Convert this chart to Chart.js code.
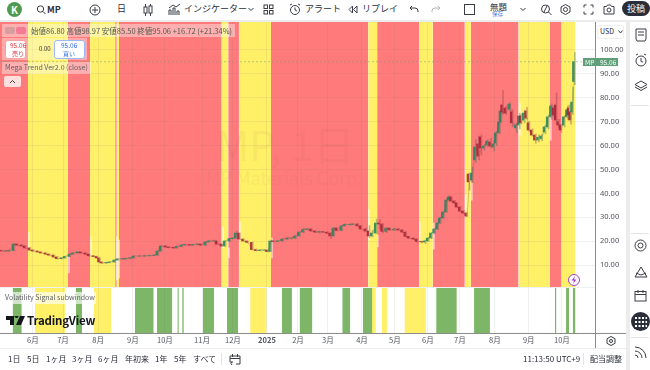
<!DOCTYPE html>
<html>
<head>
<meta charset="utf-8">
<script src="https://cdn.jsdelivr.net/npm/chart.js@4"></script>
<style>
  html, body { margin: 0; padding: 0; background: #fff; width: 650px; height: 370px; overflow: hidden; }
  body { position: relative; font-family: "Noto Sans CJK JP", "Noto Sans", sans-serif; color: #2a2e39; }
  .t { position: absolute; white-space: nowrap; line-height: 1; }
  .box { position: absolute; box-sizing: border-box; }
  svg { position: absolute; fill: none; stroke: #3a3d46; stroke-width: 1; }
  #wrap { position: absolute; left: 0; top: 22px; width: 626px; height: 326px; }
</style>
</head>
<body>
<div id="wrap"><canvas id="mp-chart" width="626" height="326"></canvas></div>

<!-- top toolbar -->
<div class="box" style="left:0;top:20px;width:650px;height:2px;background:#ececec"></div>
<div class="box" style="left:7px;top:2px;width:15px;height:15px;border-radius:50%;background:#4f9a52"></div>
<div class="t" style="left:11px;top:5px;font-size:10px;font-weight:700;color:#fff">K</div>
<svg style="left:36px;top:4px" width="10" height="12"><circle cx="4.5" cy="5" r="3.2"/><path d="M7 7.5l2.5 2.5"/></svg>
<div class="t" style="left:47px;top:5px;font-size:9px;font-weight:700">MP</div>
<svg style="left:89px;top:4px" width="12" height="12"><circle cx="6" cy="6" r="5"/><path d="M6 3v6M3 6h6"/></svg>
<div class="t" style="left:117px;top:4px;font-size:9px">日</div>
<svg style="left:143px;top:3px" width="10" height="14"><rect x="1" y="4" width="3" height="6"/><rect x="6" y="3" width="3" height="7"/><path d="M2.5 1v3M2.5 10v3M7.5 1v2M7.5 10v3"/></svg>
<svg style="left:168px;top:3px" width="13" height="13"><path d="M1 12V7h2v5M5 12V5h2v7M9 12V8h2v4M1 5l4-3 3 2 4-3"/></svg>
<div class="t" style="left:184px;top:4px;font-size:9px">インジケーター</div>
<svg style="left:248px;top:7px" width="6" height="5"><path d="M.5 1l2.5 2.5L5.500 1"/></svg>
<svg style="left:263px;top:4px" width="11" height="11"><rect x="1" y="1" width="3.500" height="3.500"/><rect x="6.500" y="1" width="3.500" height="3.500"/><rect x="1" y="6.500" width="3.500" height="3.500"/><rect x="6.500" y="6.500" width="3.500" height="3.500"/></svg>
<svg style="left:289px;top:3px" width="12" height="13"><circle cx="6" cy="7" r="4.500"/><path d="M6 4.500V7l2 1M1 2l2-1M11 2l-2-1"/></svg>
<div class="t" style="left:305px;top:4px;font-size:9px">アラート</div>
<svg style="left:348px;top:5px" width="10" height="9"><path d="M4.500 1L1 4.500 4.500 8zM9 1L5.500 4.500 9 8z"/></svg>
<div class="t" style="left:362px;top:4px;font-size:9px">リプレイ</div>
<svg style="left:409px;top:5px" width="10" height="9"><path d="M3 1L1 3l2 2M1 3h5a3 3 0 0 1 3 3v1"/></svg>
<svg style="left:431px;top:5px;stroke:#b4b6bc" width="10" height="9"><path d="M7 1l2 2-2 2M9 3H4a3 3 0 0 0-3 3v1"/></svg>
<div class="box" style="left:464px;top:4px;width:11px;height:11px;border:1px solid #3a3d46"></div>
<div class="t" style="left:490px;top:2px;font-size:8.5px">無題</div>
<div class="t" style="left:492px;top:12px;font-size:5.5px;color:#3f7fe8">保存</div>
<svg style="left:520px;top:7px" width="6" height="5"><path d="M.5 1l2.500 2.500L5.500 1"/></svg>
<svg style="left:540px;top:3px" width="12" height="13"><circle cx="5.500" cy="6" r="4"/><path d="M8.500 9l3 3M4 9l3-6"/></svg>
<svg style="left:560px;top:4px" width="11" height="11"><path d="M5.500 .5l4.500 2.500v5L5.500 10.500 1 8V3z"/><circle cx="5.500" cy="5.500" r="2"/></svg>
<svg style="left:583px;top:4px" width="11" height="11"><path d="M1 3.500V1h2.500M7.500 1H10v2.500M10 7.500V10H7.500M3.500 10H1V7.500"/></svg>
<svg style="left:603px;top:4px" width="12" height="11"><path d="M1 2.500h2.500l1-1.500h3l1 1.500H11v7.500H1z"/><circle cx="6" cy="6" r="2"/></svg>
<div class="box" style="left:622px;top:1px;width:28px;height:15px;border-radius:8px;background:#2a2e39"></div>
<div class="t" style="left:627px;top:4px;font-size:9px;color:#fff">投稿</div>

<!-- right sidebar -->
<div class="box" style="left:626px;top:20px;width:4px;height:350px;background:#ececec"></div>
<div class="box" style="left:630px;top:22px;width:20px;height:348px;background:#fff"></div>
<svg style="left:635px;top:28px" width="12" height="14"><path d="M1 1h10v10l-1 2H2l-1-2zM3 4h6M3 7h6"/></svg>
<svg style="left:634px;top:53px" width="14" height="14"><circle cx="7" cy="8" r="5"/><path d="M7 5v3.500l2 .5M2 2l2-1M12 2l-2-1"/></svg>
<svg style="left:634px;top:80px" width="14" height="12"><path d="M7 1l6 3.500-6 3.500-6-3.500zM1 7l6 3.500L13 7"/></svg>
<div class="box" style="left:631px;top:105px;width:18px;height:1px;background:#e4e4e4"></div>
<div class="box" style="left:631px;top:233px;width:18px;height:1px;background:#e4e4e4"></div>
<svg style="left:634px;top:239px" width="13" height="13"><circle cx="6.500" cy="6.500" r="5.500"/><circle cx="6.500" cy="6.500" r="2.500"/></svg>
<svg style="left:634px;top:266px" width="14" height="12"><path d="M7 1l6 10H1zM2 7l5 2 5-2"/></svg>
<svg style="left:634px;top:289px" width="13" height="13"><rect x="1" y="2.500" width="11" height="9.500"/><path d="M1 5.500h11M4 1v3M9 1v3"/></svg>
<div class="box" style="left:631px;top:312px;width:19px;height:19px;border-radius:50%;background:#2a2e39"></div>
<svg style="left:635px;top:316px;stroke:#fff;stroke-width:2;stroke-dasharray:2 1.500" width="12" height="12"><path d="M0 2h12M0 6h12M0 10h12"/></svg>
<div class="box" style="left:631px;top:337px;width:18px;height:1px;background:#e4e4e4"></div>
<svg style="left:634px;top:346px" width="13" height="13"><path d="M1 1a11 11 0 0 1 11 11M1 5a7 7 0 0 1 7 7M1 9a3 3 0 0 1 3 3"/></svg>

<!-- chart overlays -->
<div class="t" style="left:216px;top:123px;font-size:41px;color:rgba(110,60,60,.05)">MP, 1日</div>
<div class="t" style="left:206px;top:168px;font-size:18px;color:rgba(110,60,60,.05)">MP Materials Corp.</div>

<div class="box" style="left:2px;top:24px;width:233px;height:13px;background:rgba(255,255,255,.4)"></div>
<div class="box" style="left:5px;top:27px;width:10px;height:7px;border-radius:2px;background:rgba(120,120,120,.3)"></div>
<div class="box" style="left:16px;top:27px;width:10px;height:7px;border-radius:2px;background:rgba(230,60,110,.45)"></div>
<div class="t" style="left:31px;top:27px;font-size:7.500px;color:#4e5a4c">始値86.80 高値98.97 安値85.50 終値95.06 +16.72 (+21.34%)</div>
<div class="box" style="left:2px;top:38px;width:85px;height:22px;background:rgba(255,255,255,.35)"></div>
<div class="box" style="left:5px;top:40px;width:21px;height:19px;background:#fff;border:1px solid #f4a3a3;border-radius:3px"></div>
<div class="t" style="left:10px;top:42px;font-size:6.500px;color:#e0363f">95.06</div>
<div class="t" style="left:12px;top:51px;font-size:6px;color:#e0363f">売り</div>
<div class="t" style="left:39px;top:46px;font-size:6px;color:#333">0.00</div>
<div class="box" style="left:54px;top:40px;width:31px;height:19px;background:#fff;border:1px solid #9db9f3;border-radius:3px"></div>
<div class="t" style="left:61px;top:42px;font-size:6.500px;color:#2f6de0">95.06</div>
<div class="t" style="left:63px;top:51px;font-size:6px;color:#2f6de0">買い</div>
<div class="box" style="left:2px;top:62px;width:89px;height:12px;background:rgba(255,255,255,.4)"></div>
<div class="t" style="left:5px;top:64px;font-size:7px;color:#5f5f66">Mega Trend Ver2.0 (close)</div>
<div class="box" style="left:4px;top:76px;width:17px;height:11px;background:rgba(255,255,255,.75);border-radius:2px"></div>
<svg style="left:9px;top:79px" width="7" height="5"><path d="M1 4l2.500-2.500L6 4"/></svg>

<div class="box" style="left:3px;top:292px;width:93px;height:12px;background:rgba(255,255,255,.65)"></div>
<div class="t" style="left:5px;top:294px;font-size:7px;color:#5f5f66">Volatility Signal subwindow</div>
<svg style="left:6px;top:316px;fill:#14161c;stroke:none" width="19" height="10"><path d="M0 0h8v9H4V4H0zM8.500 0a2 2 0 1 1 0 .1zM14 0h5l-4 9h-5z"/></svg>
<div class="t" style="left:27px;top:315px;font-size:11.500px;font-weight:700;color:#14161c;letter-spacing:-.2px">TradingView</div>

<div class="box" style="left:568px;top:274px;width:12px;height:12px;border-radius:50%;background:#fff;border:1px solid #a33dc7"></div>
<svg style="left:571px;top:276px;fill:#a33dc7;stroke:none" width="6" height="8"><path d="M4 0L.5 4.500H3L2 8l3.500-4.500H3z"/></svg>

<div class="box" style="left:597px;top:25px;width:27px;height:14px;background:#fff;border:1px solid #eee;border-radius:2px"></div>
<div class="t" style="left:600px;top:28px;font-size:7px">USD</div>
<svg style="left:618px;top:30px" width="5" height="4"><path d="M.5 .5L2.500 3l2-2.500"/></svg>

<div class="box" style="left:583px;top:58px;width:35px;height:8px;background:#5f9f78"></div>
<div class="box" style="left:595px;top:58px;width:1px;height:8px;background:#7fb596"></div>
<div class="t" style="left:585px;top:59px;font-size:6.500px;color:#fff">MP</div>
<div class="t" style="left:600px;top:59px;font-size:6.500px;color:#fff">95.06</div>

<!-- axis rules and bottom bar -->
<div class="box" style="left:595px;top:22px;width:1px;height:326px;background:#8b8b8b"></div>
<div class="box" style="left:0;top:333px;width:626px;height:1px;background:#8b8b8b"></div>
<div class="box" style="left:0;top:287px;width:595px;height:1px;background:#f0f0f0"></div>
<div class="box" style="left:0;top:348px;width:626px;height:1px;background:#ececec"></div>
<svg style="left:606px;top:336px" width="10" height="10"><path d="M5 .5l4 2.200v4.600L5 9.500 1 7.300V2.700z"/><circle cx="5" cy="5" r="1.500"/></svg>
<div class="t" style="left:8px;top:355px;font-size:8px">1日</div>
<div class="t" style="left:27px;top:355px;font-size:8px">5日</div>
<div class="t" style="left:46px;top:355px;font-size:8px">1ヶ月</div>
<div class="t" style="left:72px;top:355px;font-size:8px">3ヶ月</div>
<div class="t" style="left:98px;top:355px;font-size:8px">6ヶ月</div>
<div class="t" style="left:125px;top:355px;font-size:8px">年初来</div>
<div class="t" style="left:155px;top:355px;font-size:8px">1年</div>
<div class="t" style="left:174px;top:355px;font-size:8px">5年</div>
<div class="t" style="left:193px;top:355px;font-size:8px">すべて</div>
<div class="box" style="left:221px;top:353px;width:1px;height:12px;background:#e4e4e4"></div>
<svg style="left:229px;top:353px" width="12" height="12"><path d="M1 3h10v8H7M1 3v6h3M1 5.500h10M3.500 1v3M8.500 1v3M3 9l-1 1.500L3 12"/></svg>
<div class="t" style="left:523px;top:355px;font-size:8px">11:13:50 UTC+9</div>
<div class="box" style="left:583px;top:353px;width:1px;height:12px;background:#e4e4e4"></div>
<div class="t" style="left:590px;top:355px;font-size:8px">配当調整</div>

<script>
// price axis and time axis
const priceTicks = [10, 20, 30, 40, 50, 60, 70, 80, 90, 100];
const monthDays = [20.6, 39.4, 61.3, 83.1, 103.1, 126.3, 145.6, 166.9, 186.3, 205, 226.3, 246.9, 267.5, 287.5, 309.4, 330.6, 351.3];
const monthLabels = ['6月', '7月', '8月', '9月', '10月', '11月', '12月', '2025', '2月', '3月', '4月', '5月', '6月', '7月', '8月', '9月', '10月'];
const lastPrice = 95.06;

// candles (x is trading day)
const days = [1, 3.5, 6, 9, 11, 14, 16, 19, 21, 24, 26, 29, 31, 34, 36, 39, 41, 44, 46, 49, 51, 54, 56, 59, 61, 62.5, 64, 67, 69, 72, 74, 77, 79, 82, 84, 87.5, 91, 94, 97, 99, 101, 104, 106, 109, 111, 114, 116, 119, 121, 124, 126, 129, 131, 134, 136, 139, 141, 144, 146, 148, 150, 152.5, 155, 158, 160.5, 163, 165.5, 167.5, 169.5, 171, 174, 177, 180, 182.5, 185, 187.5, 190, 192.5, 195, 197.5, 200, 202.5, 205, 207, 209, 211, 214, 216, 219, 221, 224, 226, 229, 231, 233, 235.5, 237.5, 239.5, 242, 244, 247, 249.5, 252, 254, 256, 259, 261, 264, 266, 268, 270, 272, 274, 275.5, 277.5, 279.5, 281, 282.5, 284.5, 286, 288, 290, 292, 293.5, 295.5, 297.5, 299.5, 301, 303, 305, 307, 309, 310.5, 312.5, 313.5, 314.5, 316.5, 319, 320.5, 323, 325, 326, 328, 329.5, 331, 333, 335, 337, 339, 341, 343, 345, 346.5, 348, 349.5, 351, 353, 355, 356, 357, 358.2, 359.4];
const opens = [16.2, 15.9, 15.9, 16.1, 18.8, 18.4, 18, 17.2, 16.3, 15.9, 15.5, 15.1, 14.6, 14.2, 13.4, 12.7, 13, 13.6, 14.6, 15.1, 15.5, 15.1, 14.6, 13.9, 13.6, 13, 11.3, 10.9, 11.1, 11.3, 12.1, 12.6, 12.6, 12.8, 13, 13.8, 13.8, 13.9, 14, 14.2, 15.9, 18, 17.6, 17.4, 17.2, 17.8, 18.4, 18.6, 18.4, 18.6, 18.8, 18.4, 19.7, 20.1, 20.1, 18.8, 18, 20.1, 21.1, 21.3, 23.4, 20.9, 20.1, 19.5, 16.5, 16.1, 16.3, 16.3, 15.7, 20.1, 19.9, 20.1, 20.9, 21.3, 21.3, 22.2, 23.8, 24.9, 25.1, 24.3, 23.8, 24, 23.8, 23.4, 22.2, 25.5, 24.5, 26.4, 27, 27, 27.2, 26.4, 25.1, 24.3, 22.2, 23.4, 27.6, 27.2, 24.1, 25.5, 24.7, 25.1, 24.7, 23.8, 22, 21.3, 20.9, 19.9, 19.7, 20.1, 21.3, 23.4, 25.1, 27.6, 29.7, 32.2, 37.2, 38.5, 36.8, 36, 34.3, 32.6, 31.8, 48.1, 45.6, 54, 60.7, 63.6, 59, 60.2, 61.5, 59.4, 61.1, 65.3, 69.9, 77, 75.7, 75.3, 74.1, 67.4, 68.6, 72.4, 70.7, 74.5, 69.5, 66.5, 64.4, 62.3, 62.8, 65.7, 67.8, 72, 75.7, 77, 69.9, 68.6, 68.6, 72, 75.7, 74.1, 74.1, 86.8];
const highs = [16.4, 16.3, 16.5, 19.2, 19, 18.6, 18.2, 17.4, 16.5, 16, 15.6, 15.2, 14.8, 14.3, 13.6, 13.2, 13.8, 14.8, 15.3, 15.7, 15.6, 15.2, 14.7, 14, 13.8, 13.1, 11.4, 11.3, 11.5, 12.3, 12.8, 12.9, 13, 13.3, 14, 14.1, 14.1, 14.3, 14.4, 16.1, 18.3, 18.2, 17.8, 17.6, 18, 18.6, 18.8, 18.7, 18.8, 19, 18.9, 19.9, 20.4, 20.5, 20.2, 19, 20.3, 21.3, 21.5, 24.3, 23.5, 21, 20.2, 19.6, 16.7, 16.5, 16.6, 16.4, 20.5, 20.4, 20.3, 21.2, 21.7, 21.7, 22.4, 24, 25.5, 25.4, 25.2, 24.4, 24.2, 24.2, 24, 23.6, 25.8, 25.7, 26.6, 27.4, 27.3, 27.5, 27.4, 26.6, 25.6, 26.5, 24.5, 29.2, 29, 27.4, 25.7, 25.7, 25.3, 25.4, 24.9, 24, 22.1, 21.5, 21, 20, 20.4, 21.6, 23.6, 25.3, 27.8, 30, 32.5, 37.5, 39.2, 38.7, 37, 36.2, 34.5, 32.8, 32, 48.5, 51, 62.5, 64, 64.5, 60.5, 62.5, 63, 62, 66, 71, 75, 83, 76.5, 78, 75, 69.5, 73.5, 73, 74.5, 76, 70, 67, 64.8, 64.5, 64.8, 68.5, 72.8, 77.5, 76.5, 82, 71, 69, 72.5, 76.5, 77, 74.5, 84.5, 98.97];
const lows = [15.6, 15.6, 15.7, 16, 18, 17.8, 17, 16.1, 15.7, 15.3, 14.9, 14.4, 14, 13.2, 12.5, 12.5, 12.8, 13.4, 14.4, 14.9, 14.9, 14.4, 13.7, 13.4, 12.8, 11.1, 10.6, 10.7, 10.9, 11.1, 11.9, 12.3, 12.4, 12.6, 12.8, 13.5, 13.6, 13.7, 13.8, 14, 15.7, 17.3, 17.2, 17, 17, 17.6, 18.2, 18.1, 18.2, 18.4, 18.2, 18.2, 19.5, 19.8, 18.6, 17.8, 17.8, 19.9, 20.9, 21.1, 20.7, 19.9, 19.3, 16.3, 15.9, 15.9, 15.9, 15.5, 15.6, 19.6, 19.7, 19.9, 20.6, 21, 21.1, 22, 23.6, 24.6, 24.1, 23.6, 23.4, 23.6, 23.2, 21, 22, 24.2, 24.3, 26.2, 26.6, 26.8, 26.2, 24.9, 24.1, 21.5, 21.8, 23.2, 25, 23.5, 23.6, 24.5, 24.5, 24.5, 23.6, 21.8, 21.1, 20.7, 19.7, 19.3, 19, 19.9, 21.1, 23.2, 24.9, 27.4, 29.5, 32, 36.8, 36.6, 35.8, 34.1, 32.4, 31.6, 30.3, 41.4, 44.5, 53, 54, 56, 58, 59.5, 59, 57.8, 60, 65, 69.5, 73, 73, 74.5, 68, 65.3, 67, 69, 69.5, 71, 66, 64, 61, 61.5, 62, 65, 67, 71, 72, 70, 67.5, 65.5, 67.8, 71, 71, 69, 73, 85.5];
const closes = [15.9, 15.9, 16.1, 18.8, 18.4, 18, 17.2, 16.3, 15.9, 15.5, 15.1, 14.6, 14.2, 13.4, 12.7, 13, 13.6, 14.6, 15.1, 15.5, 15.1, 14.6, 13.9, 13.6, 13, 11.3, 10.9, 11.1, 11.3, 12.1, 12.6, 12.6, 12.8, 13, 13.8, 13.8, 13.9, 14, 14.2, 15.9, 18, 17.6, 17.4, 17.2, 17.8, 18.4, 18.6, 18.4, 18.6, 18.8, 18.4, 19.7, 20.1, 20.1, 18.8, 18, 20.1, 21.1, 21.3, 23.4, 20.9, 20.1, 19.5, 16.5, 16.1, 16.3, 16.3, 15.7, 20.1, 19.9, 20.1, 20.9, 21.3, 21.3, 22.2, 23.8, 24.9, 25.1, 24.3, 23.8, 24, 23.8, 23.4, 22.2, 25.5, 24.5, 26.4, 27, 27, 27.2, 26.4, 25.1, 24.3, 22.2, 23.4, 27.6, 27.2, 24.1, 25.5, 24.7, 25.1, 24.7, 23.8, 22, 21.3, 20.9, 19.9, 19.7, 20.1, 21.3, 23.4, 25.1, 27.6, 29.7, 32.2, 37.2, 38.5, 36.8, 36, 34.3, 32.6, 31.8, 30.5, 44.8, 48.5, 59.4, 55.6, 59, 59.8, 61.9, 59.8, 60.7, 65.3, 69.9, 74.5, 74, 73.6, 77.4, 69.5, 68.6, 72.4, 69.5, 73.6, 71.5, 66.5, 64.4, 62.3, 63.5, 64, 67.8, 72, 76.6, 72.8, 70.7, 68.6, 66.5, 72, 74.9, 72.8, 70.7, 78.2, 95.06];

// pale signal ticks at the trend flips
const flipDays = [17.5, 42.5, 56.3, 72.5, 73.8, 138.8, 142.5, 149.4, 169.4, 230, 235.6, 261.9, 270.6, 290.6, 294.4, 324.4, 343.8];
const flipLows = [16.3, 6.7, 14.2, 3.8, 4.6, 17.2, 13, 20.5, 13, 20.5, 17.6, 20.5, 16.7, 33, 37.2, 64.4, 62.3];
const flipHighs = [23.8, 14.2, 21.8, 21.8, 20.5, 25.9, 17.2, 28, 21.3, 33, 22.6, 28, 27.6, 39.3, 44.4, 77.8, 76];

// trend regime bands on the price pane [from day, to day]
const redBands = [[0, 17.5], [42.5, 56.3], [72, 73], [74.4, 138.6], [142.7, 149.4], [169.4, 230.2], [235.8, 262.1], [270.6, 290.6], [294.4, 324.2], [343.8, 350.8]];
const yellowBands = [[17.5, 42.5], [56.3, 72], [73, 74.4], [138.6, 142.7], [149.4, 169.4], [230.2, 235.8], [262.1, 270.6], [290.6, 294.4], [324.2, 343.8], [350.8, 359.8]];

// volatility subwindow bands
const greenBands = [[7.9, 13.6], [47.5, 51.3], [84.4, 96.1], [98.1, 107.7], [126.9, 133.8], [141.9, 148.8], [176.3, 182.5], [187.3, 195.3], [214, 219], [226.9, 232.8], [272.7, 285.6], [296.4, 306.3], [347, 347.9], [353.9, 355.8], [358.1, 359.8]];
const paleGreenBands = [[110.8, 111.9], [113.8, 115]];
const subYellowBands = [[21.9, 40.6], [58.6, 69.4], [156.4, 166.7], [228.9, 235], [238.8, 241.9], [252.9, 266.3]];

const RED = '#ff7b7b';
const YELLOW = '#fff068';
const GREEN = '#7cb666';
const UP = 'rgba(31,130,95,0.85)';
const DOWN = 'rgba(165,32,50,0.85)';
const TOP = 111.7;
const BOTTOM = 0.84;

const bandSets = (bands, color, yAxisID, from, to) => bands.map((b) => ({
  type: 'line',
  yAxisID,
  data: [{ x: b[0], y: to }, { x: b[1], y: to }],
  borderWidth: 0,
  pointRadius: 0,
  backgroundColor: color,
  fill: { value: from },
  order: 10,
}));

const isUp = (i) => closes[i] >= opens[i];

// no half-label gutters: the bands run to the very edge of the panes
const noPadding = (scale) => {
  scale.paddingTop = 0;
  scale.paddingBottom = 0;
  scale.paddingLeft = 0;
  scale.paddingRight = 0;
};

new Chart(document.getElementById('mp-chart'), {
  type: 'bar',
  data: {
    datasets: [
      ...bandSets(redBands, RED, 'y', BOTTOM, TOP),
      ...bandSets(yellowBands, YELLOW, 'y', BOTTOM, TOP),
      ...bandSets(greenBands, GREEN, 'ySub', 0, 1),
      ...bandSets(paleGreenBands, '#a5cd95', 'ySub', 0, 1),
      ...bandSets(subYellowBands, YELLOW, 'ySub', 0, 1),
      {
        label: 'flips',
        data: flipDays.map((d, i) => ({ x: d, y: [flipLows[i], flipHighs[i]] })),
        backgroundColor: 'rgba(255,255,255,0.6)',
        barThickness: 1,
        order: 6,
      },
      {
        type: 'line',
        label: 'last',
        data: [{ x: 0, y: lastPrice }, { x: 372, y: lastPrice }],
        borderColor: 'rgba(120,150,120,0.5)',
        borderWidth: 1,
        borderDash: [2, 2],
        pointRadius: 0,
        order: 5,
      },
      {
        type: 'line',
        label: 'close',
        data: days.map((d, i) => ({ x: d, y: closes[i] })),
        borderColor: 'rgba(90,70,60,0.25)',
        borderWidth: 1,
        pointRadius: 0,
        order: 4,
      },
      {
        label: 'wicks',
        data: days.map((d, i) => ({ x: d, y: [lows[i], highs[i]] })),
        backgroundColor: days.map((d, i) => (isUp(i) ? 'rgba(60,110,90,0.4)' : 'rgba(150,60,70,0.4)')),
        barThickness: 1,
        order: 3,
      },
      {
        label: 'bodies',
        data: days.map((d, i) => ({ x: d, y: [opens[i], closes[i]] })),
        backgroundColor: days.map((d, i) => (isUp(i) ? UP : DOWN)),
        barThickness: 1.6,
        order: 2,
      },
    ],
  },
  options: {
    responsive: false,
    animation: false,
    events: [],
    layout: { padding: 0 },
    plugins: { legend: { display: false }, tooltip: { enabled: false } },
    scales: {
      x: {
        type: 'linear',
        min: 0,
        max: 372,
        offset: false,
        afterBuildTicks: (scale) => { scale.ticks = monthDays.map((v) => ({ value: v })); },
        afterFit: (scale) => { scale.height = 15; noPadding(scale); },
        grid: { color: 'rgba(110,110,110,0.1)', z: 1, drawTicks: false, offset: false },
        border: { display: false },
        ticks: {
          autoSkip: false,
          maxRotation: 0,
          padding: 3,
          color: '#50535e',
          font: (ctx) => ({
            family: '"Noto Sans CJK JP", "Noto Sans", sans-serif',
            size: 7.5,
            weight: ctx.tick && ctx.tick.value === monthDays[7] ? 'bold' : 'normal',
          }),
          callback: (value) => monthLabels[monthDays.indexOf(value)],
        },
      },
      y: {
        position: 'right',
        stack: 'panes',
        stackWeight: 265,
        min: BOTTOM,
        max: TOP,
        afterBuildTicks: (scale) => { scale.ticks = priceTicks.map((v) => ({ value: v })); },
        afterFit: (scale) => { scale.width = 31; noPadding(scale); },
        grid: { color: 'rgba(110,110,110,0.1)', z: 1, drawTicks: false },
        border: { display: false },
        ticks: {
          padding: 5,
          color: '#50535e',
          font: { family: '"Noto Sans", sans-serif', size: 7.5 },
          callback: (value) => value.toFixed(2),
        },
      },
      ySub: {
        position: 'right',
        stack: 'panes',
        stackWeight: 46,
        min: 0,
        max: 1,
        afterFit: (scale) => { scale.width = 31; noPadding(scale); },
        grid: { display: false },
        border: { display: false },
        ticks: { display: false },
      },
    },
  },
});
</script>
</body>
</html>
